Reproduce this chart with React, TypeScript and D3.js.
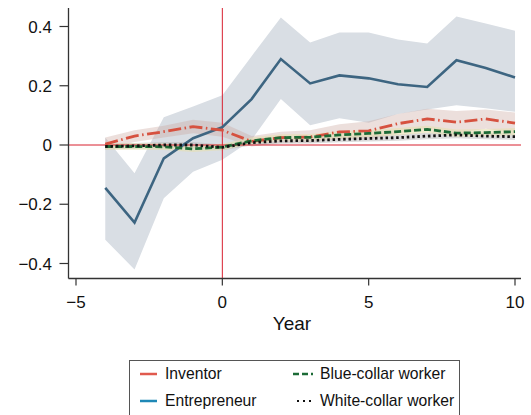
import React from 'react';
import * as d3 from 'd3';

const years = [-4, -3, -2, -1, 0, 1, 2, 3, 4, 5, 6, 7, 8, 9, 10];

const entrepreneur = [-0.145, -0.262, -0.045, 0.023, 0.06, 0.155, 0.29, 0.208, 0.235, 0.225, 0.205, 0.196, 0.286, 0.26, 0.228];
const entrepreneurHi = [0.025, -0.095, 0.094, 0.13, 0.168, 0.3, 0.43, 0.346, 0.38, 0.38, 0.356, 0.343, 0.434, 0.41, 0.386];
const entrepreneurLo = [-0.32, -0.42, -0.18, -0.09, -0.05, 0.017, 0.155, 0.067, 0.09, 0.075, 0.105, 0.12, 0.134, 0.124, 0.112];

const inventor = [0.003, 0.03, 0.045, 0.062, 0.05, 0.012, 0.025, 0.027, 0.044, 0.048, 0.072, 0.088, 0.077, 0.088, 0.074];
const inventorHi = [0.025, 0.05, 0.065, 0.085, 0.075, 0.03, 0.045, 0.05, 0.07, 0.08, 0.105, 0.122, 0.115, 0.12, 0.11];
const inventorLo = [-0.015, 0.01, 0.025, 0.04, 0.028, -0.005, 0.008, 0.008, 0.02, 0.018, 0.04, 0.055, 0.04, 0.055, 0.04];

const blueCollar = [-0.005, -0.005, -0.006, -0.013, -0.007, 0.014, 0.025, 0.026, 0.034, 0.039, 0.045, 0.053, 0.04, 0.042, 0.045];
const blueCollarHi = [0.006, 0.006, 0.005, -0.002, 0.004, 0.025, 0.036, 0.037, 0.046, 0.051, 0.057, 0.065, 0.052, 0.054, 0.057];
const blueCollarLo = [-0.016, -0.016, -0.017, -0.024, -0.018, 0.003, 0.014, 0.015, 0.022, 0.027, 0.033, 0.041, 0.028, 0.03, 0.033];

const whiteCollar = [-0.005, -0.003, 0, 0, -0.008, 0.008, 0.014, 0.015, 0.019, 0.022, 0.025, 0.03, 0.034, 0.03, 0.028];
const whiteCollarHi = [0.005, 0.007, 0.01, 0.01, 0.002, 0.018, 0.024, 0.025, 0.029, 0.032, 0.036, 0.041, 0.045, 0.041, 0.039];
const whiteCollarLo = [-0.015, -0.013, -0.01, -0.01, -0.018, -0.002, 0.004, 0.005, 0.009, 0.012, 0.014, 0.019, 0.023, 0.019, 0.017];

const xTicks = [-5, 0, 5, 10];
const yTicks = [-0.4, -0.2, 0, 0.2, 0.4];

const font = '"Liberation Sans", Arial, Helvetica, sans-serif';

const App: React.FC = () => {
  const left = 68.5, right = 521, top = 8, bottom = 278.5;

  const x = d3.scaleLinear().domain([-5, 10]).range([76, 515]);
  const y = d3.scaleLinear().domain([-0.4, 0.4]).range([263.5, 26.5]);

  const line = (vals: number[]) =>
    d3.line<number>().x((_, i) => x(years[i])).y(d => y(d))(vals) as string;
  const band = (lo: number[], hi: number[]) =>
    d3.area<number>().x((_, i) => x(years[i])).y0((_, i) => y(lo[i])).y1(d => y(d))(hi) as string;

  const fmt = (d: number) => (d === 0 ? '0' : d3.format('.1f')(d));

  return (
    <svg width={531} height={415} style={{ position: 'absolute', left: 0, top: 0, background: '#fff' }}>
      {/* confidence bands */}
      <path d={band(entrepreneurLo, entrepreneurHi)} fill="#d9dee4" />
      <path d={band(inventorLo, inventorHi)} fill="#c9a39c" fillOpacity={0.35} />
      <path d={band(whiteCollarLo, whiteCollarHi)} fill="#b8b8b8" fillOpacity={0.5} />
      <path d={band(blueCollarLo, blueCollarHi)} fill="#e6e0b0" fillOpacity={0.6} />

      {/* reference lines */}
      <line x1={left} x2={right} y1={y(0)} y2={y(0)} stroke="#d8202f" strokeWidth={1} />
      <line x1={x(0)} x2={x(0)} y1={top} y2={bottom} stroke="#d8202f" strokeWidth={1} />

      {/* series */}
      <path d={line(entrepreneur)} fill="none" stroke="#3d6581" strokeWidth={2.6} />
      <path d={line(inventor)} fill="none" stroke="#d6513f" strokeWidth={2.8} strokeDasharray="13,3.5,1.5,3.5" />
      <path d={line(blueCollar)} fill="none" stroke="#1c6b36" strokeWidth={2.8} strokeDasharray="7,3" />
      <path d={line(whiteCollar)} fill="none" stroke="#111" strokeWidth={2.8} strokeDasharray="2.5,2.8" />

      {/* axes */}
      <line x1={left} x2={left} y1={top} y2={bottom} stroke="#333" strokeWidth={1.3} />
      <line x1={left} x2={right} y1={bottom} y2={bottom} stroke="#333" strokeWidth={1.3} />
      {yTicks.map(t => (
        <g key={t}>
          <line x1={left - 9} x2={left} y1={y(t)} y2={y(t)} stroke="#333" strokeWidth={1.2} />
          <text x={left - 16.5} y={y(t)} dy="0.36em" textAnchor="end" fontFamily={font} fontSize={17} fill="#111">
            {fmt(t)}
          </text>
        </g>
      ))}
      {xTicks.map(t => (
        <g key={t}>
          <line x1={x(t)} x2={x(t)} y1={bottom} y2={bottom + 7} stroke="#333" strokeWidth={1.2} />
          <text x={x(t)} y={307.5} textAnchor="middle" fontFamily={font} fontSize={17} fill="#111">
            {d3.format('')(t)}
          </text>
        </g>
      ))}
      <text x={292} y={330} textAnchor="middle" fontFamily={font} fontSize={19} fill="#111">Year</text>

      {/* legend */}
      <rect x={129.5} y={360.5} width={330} height={70} fill="#fff" stroke="#555" strokeWidth={1} />
      <g fontFamily={font} fontSize={15.7} fill="#111">
        <line x1={140} x2={157} y1={374} y2={374} stroke="#e05a4e" strokeWidth={2.5} />
        <text x={165} y={374} dy="0.35em">Inventor</text>
        <line x1={140} x2={157} y1={401} y2={401} stroke="#1f88b6" strokeWidth={2.5} />
        <text x={165} y={401} dy="0.35em">Entrepreneur</text>
        <line x1={293} x2={313} y1={374} y2={374} stroke="#1c6b36" strokeWidth={2.5} strokeDasharray="6,3" />
        <text x={320} y={374} dy="0.35em">Blue-collar worker</text>
        <line x1={297} x2={313} y1={401} y2={401} stroke="#111" strokeWidth={2.2} strokeDasharray="2,4" />
        <text x={320} y={401} dy="0.35em">White-collar worker</text>
      </g>
    </svg>
  );
};

export default App;
